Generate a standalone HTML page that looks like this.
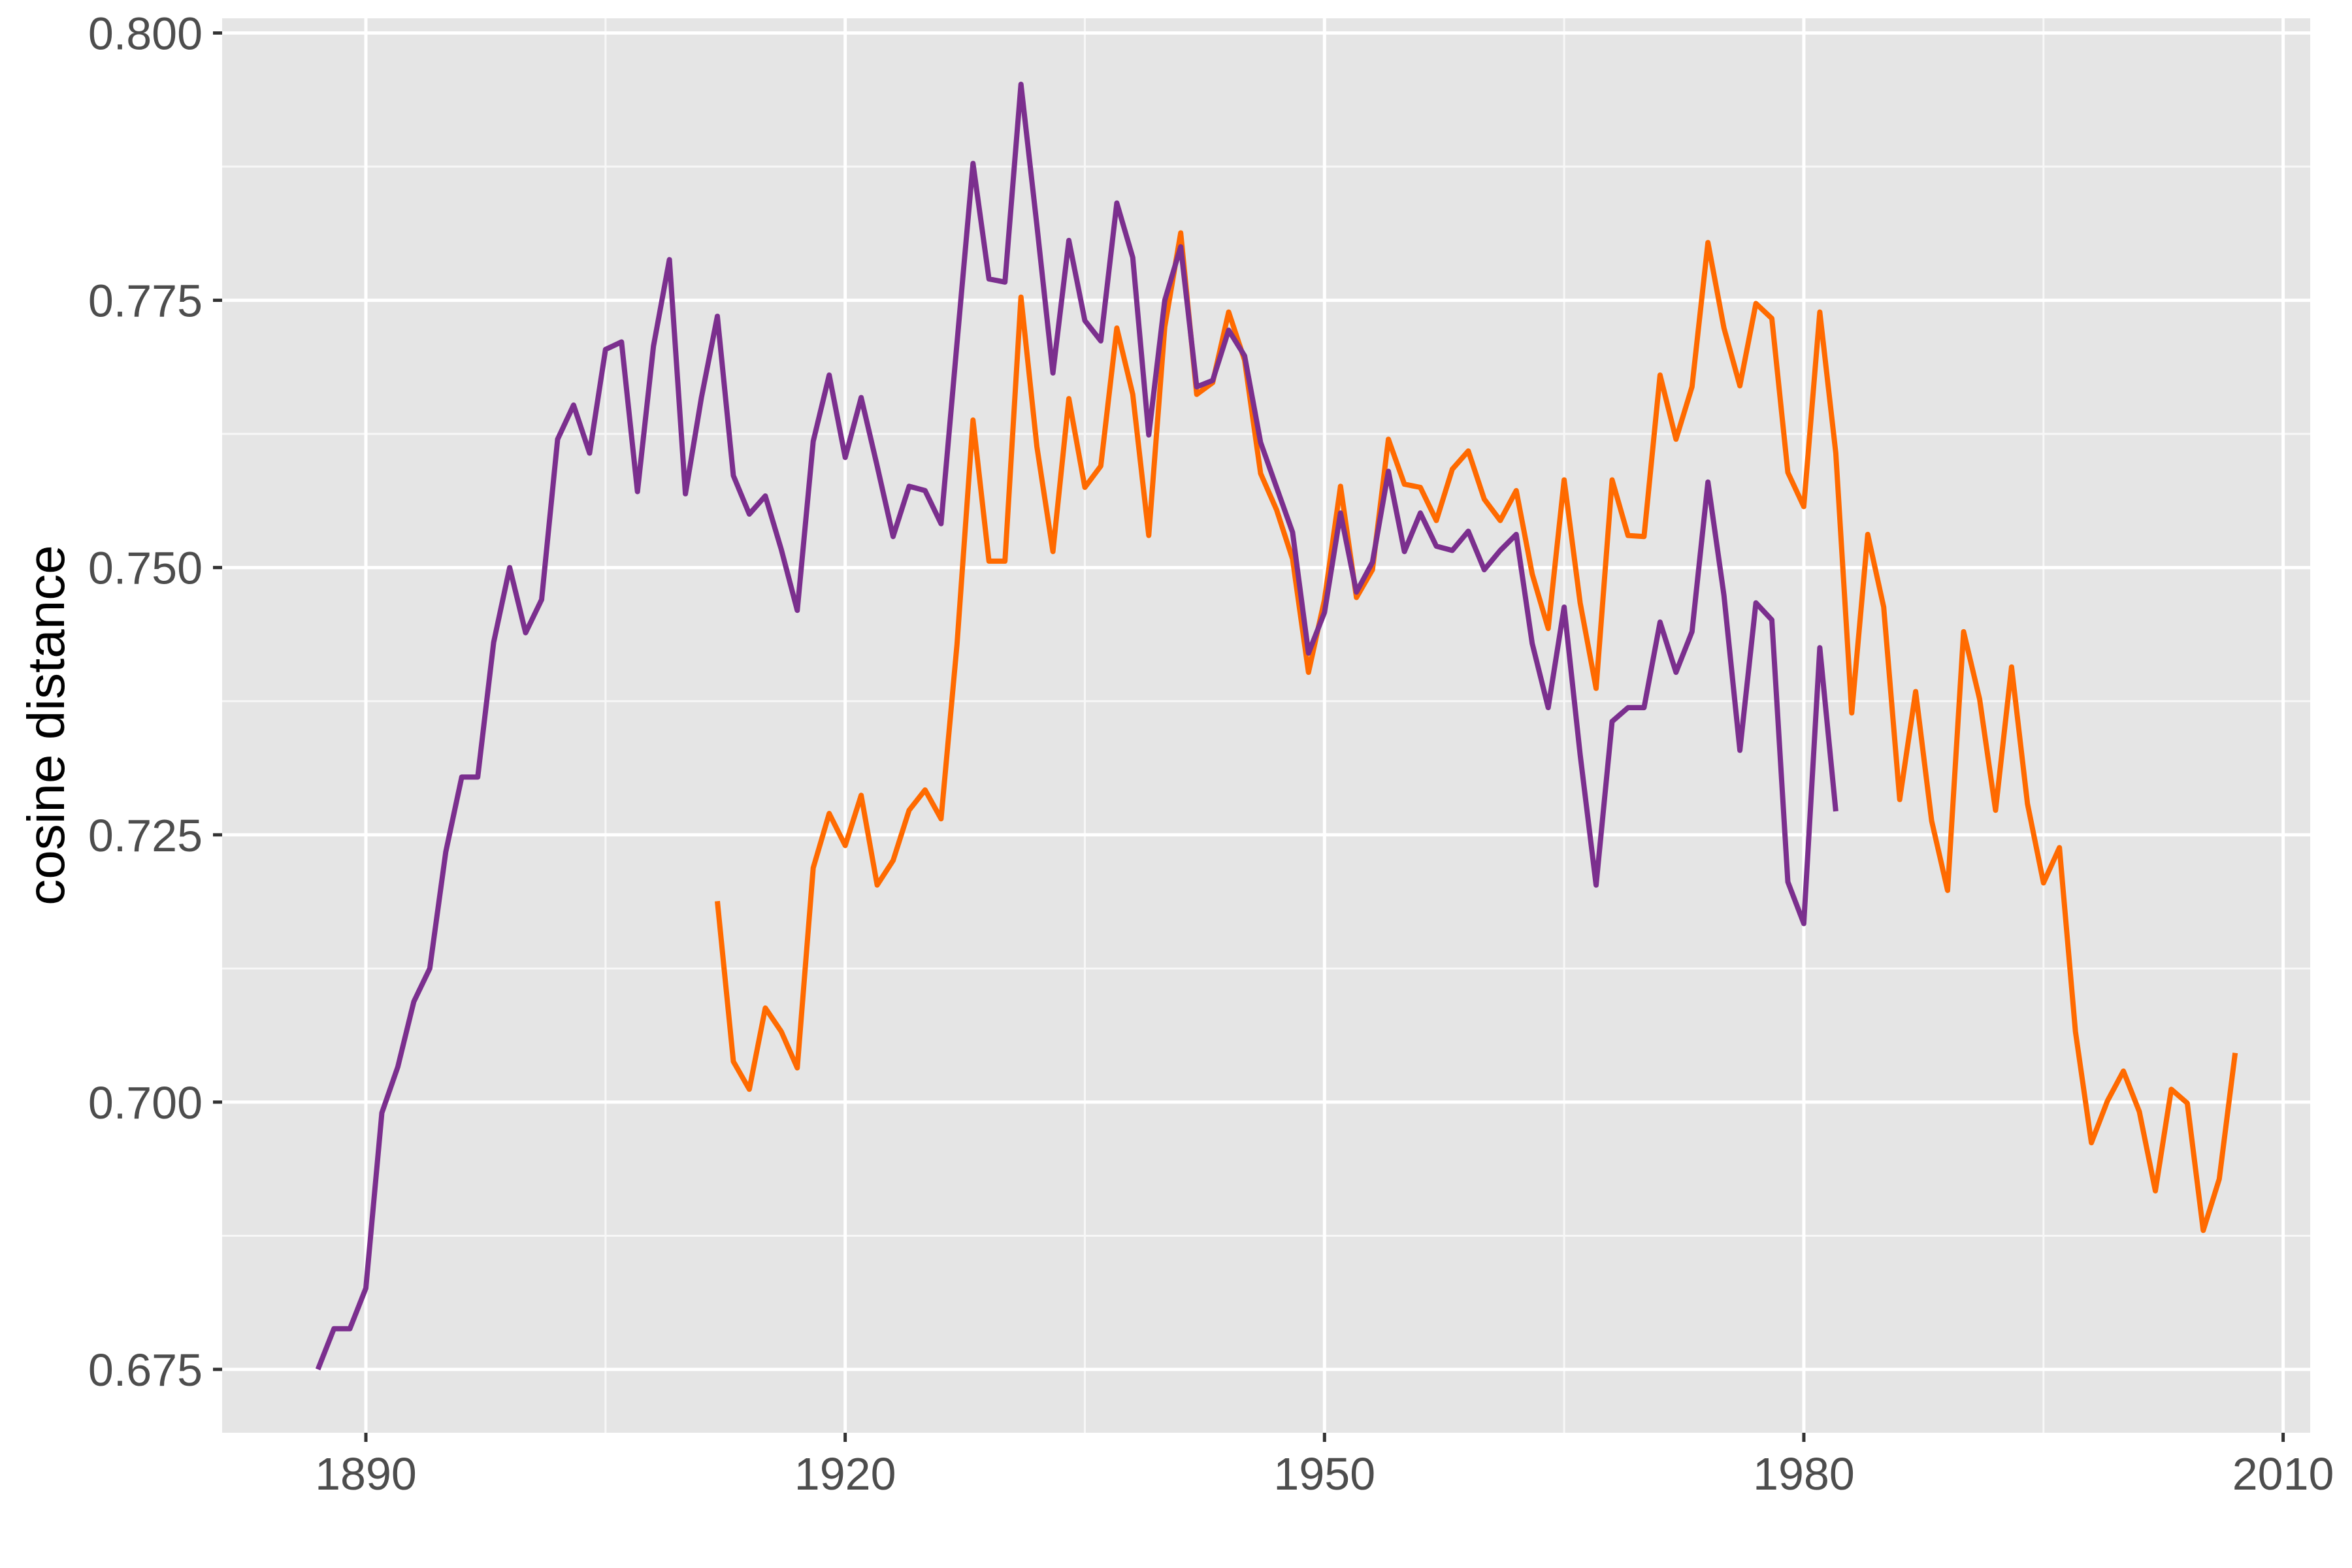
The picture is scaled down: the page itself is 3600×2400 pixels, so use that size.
<!DOCTYPE html>
<html><head><meta charset="utf-8"><style>
html,body{margin:0;padding:0;background:#fff;}
svg{display:block;font-family:"Liberation Sans",sans-serif;}
</style></head><body>
<svg id="chart" width="3600" height="2400" viewBox="0 0 3600 2400" xmlns="http://www.w3.org/2000/svg">
<rect x="340" y="28" width="3196" height="2165" fill="#e5e5e5"/>
<g id="grid"></g>
<g id="series"></g>
<g id="axes"></g>
<text transform="translate(98,1110) rotate(-90)" text-anchor="middle" font-size="80" fill="#000">cosine distance</text>
</svg>
<script>
const purpleStart = 1887;
const purpleValues = [0.675,0.6788,0.6788,0.6826,0.699,0.7033,0.7094,0.7125,0.7234,0.7304,0.7304,0.743,0.750,0.7439,0.747,0.762,0.7652,0.7607,0.7704,0.7711,0.7571,0.7707,0.7788,0.7569,0.7659,0.7735,0.7586,0.755,0.7567,0.7517,0.746,0.7618,0.768,0.7603,0.7659,0.7595,0.7529,0.7576,0.7572,0.7541,0.771,0.7878,0.777,0.7767,0.7952,0.782,0.7682,0.7806,0.7731,0.7712,0.7841,0.779,0.7624,0.775,0.780,0.7669,0.7675,0.7722,0.7698,0.7617,0.7575,0.7533,0.742,0.7458,0.7551,0.7477,0.7505,0.759,0.7515,0.7551,0.752,0.7516,0.7534,0.7498,0.7516,0.7531,0.7429,0.7369,0.7463,0.7325,0.7203,0.7356,0.7369,0.7369,0.7449,0.7402,0.744,0.758,0.7474,0.7329,0.7467,0.7451,0.7206,0.7167,0.7425,0.7272];
const orangeStart = 1912;
const orangeValues = [0.7188,0.7038,0.7012,0.7088,0.7066,0.7032,0.7219,0.727,0.724,0.7287,0.7203,0.7226,0.7273,0.7292,0.7265,0.7428,0.7638,0.7506,0.7506,0.7753,0.7613,0.7515,0.7658,0.7575,0.7595,0.7724,0.7662,0.753,0.7725,0.7813,0.7662,0.7673,0.7739,0.7694,0.7588,0.7554,0.7508,0.7402,0.747,0.7576,0.7472,0.7498,0.762,0.7578,0.7575,0.7544,0.7592,0.7609,0.7564,0.7544,0.7572,0.7494,0.7443,0.7582,0.7467,0.7387,0.7582,0.753,0.7529,0.768,0.762,0.7669,0.7804,0.7724,0.767,0.7747,0.7733,0.7589,0.7557,0.7739,0.7607,0.7364,0.7531,0.7463,0.7283,0.7384,0.7263,0.7198,0.744,0.7377,0.7273,0.7407,0.7279,0.7205,0.7238,0.7066,0.6962,0.7001,0.7029,0.6991,0.6917,0.7012,0.6999,0.688,0.6928,0.7046];
const yTicks = [0.675,0.700,0.725,0.750,0.775,0.800];
const yTickLabels = ["0.675","0.700","0.725","0.750","0.775","0.800"];
const xTicks = [1890,1920,1950,1980,2010];
const xTickLabels = ["1890","1920","1950","1980","2010"];

const X = yr => 560 + (yr - 1890) * (3494.6 - 560) / 120;
const Y = v => 50.5 + (0.800 - v) * (2096 - 50.5) / 0.125;
const NS = "http://www.w3.org/2000/svg";
function mk(tag, attrs, parent){const e=document.createElementNS(NS,tag);for(const k in attrs)e.setAttribute(k,attrs[k]);parent.appendChild(e);return e;}
const grid=document.getElementById('grid'), series=document.getElementById('series'), axes=document.getElementById('axes');
for(let i=0;i<yTicks.length-1;i++){
  const v=(yTicks[i]+yTicks[i+1])/2;
  const l=mk('line',{x1:340,x2:3536,y1:Y(v),y2:Y(v),stroke:'#f7f7f7','stroke-width':3},grid);
  
  
}
for(let i=0;i<xTicks.length-1;i++){
  const v=(xTicks[i]+xTicks[i+1])/2;
  const l=mk('line',{y1:28,y2:2193,x1:X(v),x2:X(v),stroke:'#f7f7f7','stroke-width':3},grid);
  
  
}
yTicks.forEach((v,i)=>{
  const l=mk('line',{x1:340,x2:3536,y1:Y(v),y2:Y(v),stroke:'#fff','stroke-width':5},grid);
  
  
  const t=mk('line',{x1:326,x2:340,y1:Y(v),y2:Y(v),stroke:'#333','stroke-width':5},axes);
  
  
  const tx=mk('text',{x:310,y:Y(v)+25,'text-anchor':'end','font-size':70,fill:'#4d4d4d'},axes);
  tx.textContent=yTickLabels[i];
  
  
});
xTicks.forEach((v,i)=>{
  const l=mk('line',{y1:28,y2:2193,x1:X(v),x2:X(v),stroke:'#fff','stroke-width':5},grid);
  
  
  const t=mk('line',{y1:2193,y2:2207,x1:X(v),x2:X(v),stroke:'#333','stroke-width':5},axes);
  
  
  const tx=mk('text',{x:X(v),y:2280,'text-anchor':'middle','font-size':70,fill:'#4d4d4d'},axes);
  tx.textContent=xTickLabels[i];
  
  
});
function drawLine(start, vals, color, name){
  const d=vals.map((v,i)=>(i?'L':'M')+X(start+i).toFixed(1)+','+Y(v).toFixed(1)).join(' ');
  const p=mk('path',{d:d,fill:'none',stroke:color,'stroke-width':8,'stroke-linejoin':'round'},series);
  
  
}
drawLine(orangeStart, orangeValues, '#ff6a00', 'orange-series-line');
drawLine(purpleStart, purpleValues, '#7b2f8e', 'purple-series-line');
</script>
</body></html>
